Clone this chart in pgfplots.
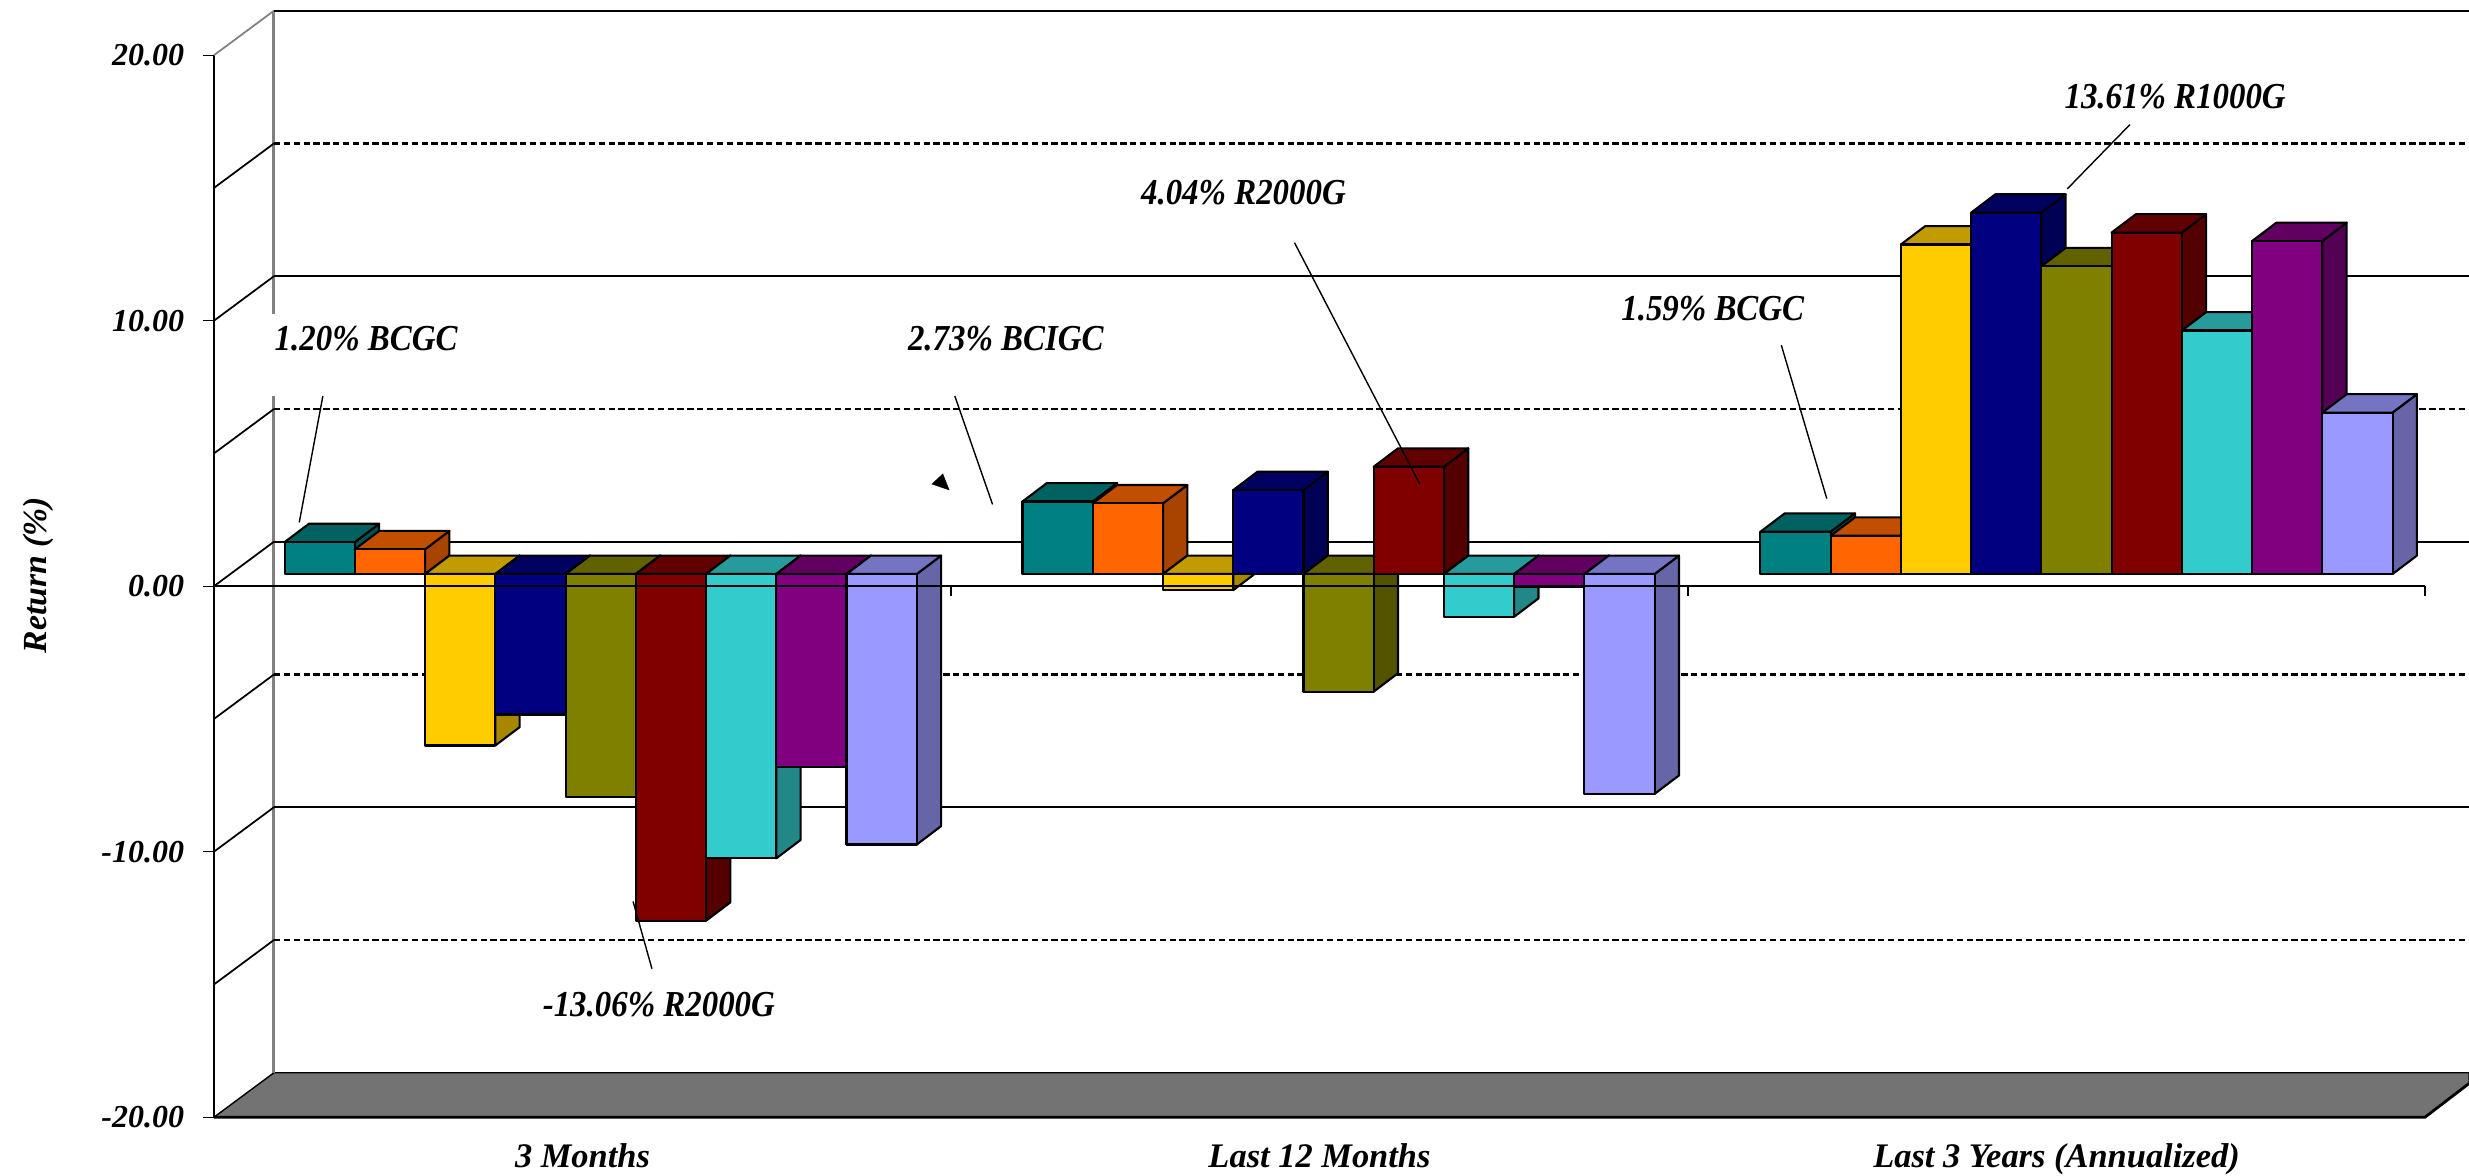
\documentclass[border=0pt]{standalone}
\usepackage{pgfplots}
\pgfplotsset{compat=1.18}
\usepackage{fontspec}
\setmainfont{Liberation Serif}
\newfontfamily\calloutfont[FakeStretch=0.9]{Liberation Serif}

\definecolor{sBCGC}{HTML}{008080}
\definecolor{sBCIGC}{HTML}{FF6600}
\definecolor{sC}{HTML}{FFCC00}
\definecolor{sR1000G}{HTML}{000080}
\definecolor{sE}{HTML}{808000}
\definecolor{sR2000G}{HTML}{800000}
\definecolor{sG}{HTML}{33CCCC}
\definecolor{sH}{HTML}{800080}
\definecolor{sI}{HTML}{9999FF}
\definecolor{floorgrey}{HTML}{737373}
\definecolor{wallgrey}{HTML}{808080}

% depth of the chart box and geometry of the bars, in axis units
\def\wallx{0.0814}
\def\wally{1.675}
\def\rightedge{3.0597}
\def\barw{0.0953}
\def\barstart{0.0958}
\def\groupstep{1.0012}
\def\barbase{0.459}
\def\bardx{0.033}
\def\bardy{0.6925}

\tikzset{barface/.style={draw=black,line width=0.6pt,line join=round}}

% one pseudo-3D bar: group, position in group, return, colour
\newcommand{\threedbar}[4]{%
  \pgfmathsetmacro\xa{\barstart+#1*\groupstep+#2*\barw}%
  \pgfmathsetmacro\xb{\xa+\barw}%
  \pgfmathsetmacro\xc{\xa+\bardx}%
  \pgfmathsetmacro\xd{\xb+\bardx}%
  \pgfmathsetmacro\ya{\barbase}%
  \pgfmathsetmacro\yv{\barbase+#3}%
  \pgfmathsetmacro\yt{max(\ya,\yv)}%
  \pgfmathsetmacro\yu{\yt+\bardy}%
  \pgfmathsetmacro\yc{\ya+\bardy}%
  \pgfmathsetmacro\ye{\yv+\bardy}%
  \edef\temp{%
    \noexpand\addplot[barface,fill=#4!66!black] coordinates {(\xb,\ya)(\xd,\yc)(\xd,\ye)(\xb,\yv)} --cycle;
    \noexpand\addplot[barface,fill=#4!76!black] coordinates {(\xa,\yt)(\xc,\yu)(\xd,\yu)(\xb,\yt)} --cycle;
    \noexpand\addplot[barface,fill=#4] coordinates {(\xa,\ya)(\xb,\ya)(\xb,\yv)(\xa,\yv)} --cycle;
  }%
  \temp
}

% one line of the box: diagonal on the side wall, then along the back wall
\newcommand{\wallline}[2]{%
  \pgfmathsetmacro\yw{#1+\wally}%
  \edef\temp{%
    \noexpand\addplot[black,line width=0.5pt] coordinates {(0,#1)(\wallx,\yw)};
    \noexpand\addplot[black,#2] coordinates {(\wallx,\yw)(\rightedge,\yw)};
  }%
  \temp
}

\begin{document}
\begin{tikzpicture}
\useasboundingbox (0,0) rectangle (24.69,11.76);
\begin{axis}[
  at={(2.14cm,0.588cm)},anchor=south west,
  scale only axis,width=22.11cm,height=10.62cm,
  xmin=0,xmax=3,ymin=-20,ymax=20,
  clip=false,
  axis x line=bottom,axis y line=left,
  axis line style={-,black,line width=0.7pt},
  tick align=outside,
  xtick={0.5,1.5,2.5},
  xticklabels={3 Months,Last 12 Months,Last 3 Years (Annualized)},
  major x tick style={draw=none},
  major tick length=0.105cm,
  ytick={-20,-10,0,10,20},
  ytick style={black,line width=0.3pt},
  /pgf/number format/assume math mode=true,
  /pgf/number format/fixed,
  /pgf/number format/fixed zerofill,
  /pgf/number format/precision=2,
  yticklabel style={font=\fontsize{9.1}{11}\selectfont\bfseries\itshape,xshift=-0.07cm},
  xticklabel style={font=\fontsize{9.8}{11}\selectfont\bfseries\itshape,anchor=base,yshift=-0.40cm},
  ylabel={Return (\%)},
  every axis y label/.style={at={(rel axis cs:-0.0796,0.5104)},rotate=90,anchor=center,
    font=\fontsize{9.6}{11}\selectfont\bfseries\itshape},
]
% floor of the box
\addplot[draw=black,line width=0.4pt,fill=floorgrey] coordinates {(0,-20)(3,-20)(\rightedge,-18.73)(\rightedge,-18.325)(\wallx,-18.325)} --cycle;
\addplot[black,line width=0.8pt] coordinates {(0,-20)(3,-20)(\rightedge,-18.73)};

% back-wall edge, broken where the first callout sits
\addplot[wallgrey,line width=0.85pt] coordinates {(\wallx,21.675)(\wallx,10.24)};
\addplot[wallgrey,line width=0.85pt] coordinates {(\wallx,7.16)(\wallx,-18.325)};
\addplot[wallgrey,line width=0.5pt] coordinates {(0,20)(\wallx,21.675)};
\addplot[black,line width=0.65pt] coordinates {(\wallx,21.675)(\rightedge,21.675)};

\wallline{15}{line width=0.6pt,dash pattern=on 1.8pt off 1pt}
\wallline{10}{line width=0.65pt}
\wallline{5}{line width=0.6pt,dash pattern=on 1.8pt off 1pt}
\wallline{0}{line width=0.65pt}
\wallline{-5}{line width=0.6pt,dash pattern=on 1.8pt off 1pt}
\wallline{-10}{line width=0.65pt}
\wallline{-15}{line width=0.6pt,dash pattern=on 1.8pt off 1pt}

% 3 Months
\threedbar{0}{0}{1.20}{sBCGC}
\threedbar{0}{1}{0.93}{sBCIGC}
\threedbar{0}{2}{-6.46}{sC}
\threedbar{0}{3}{-5.29}{sR1000G}
\threedbar{0}{4}{-8.40}{sE}
\threedbar{0}{5}{-13.06}{sR2000G}
\threedbar{0}{6}{-10.71}{sG}
\threedbar{0}{7}{-7.27}{sH}
\threedbar{0}{8}{-10.19}{sI}
% Last 12 Months
\threedbar{1}{0}{2.73}{sBCGC}
\threedbar{1}{1}{2.66}{sBCIGC}
\threedbar{1}{2}{-0.61}{sC}
\threedbar{1}{3}{3.16}{sR1000G}
\threedbar{1}{4}{-4.43}{sE}
\threedbar{1}{5}{4.04}{sR2000G}
\threedbar{1}{6}{-1.61}{sG}
\threedbar{1}{7}{-0.48}{sH}
\threedbar{1}{8}{-8.28}{sI}
% Last 3 Years (Annualized)
\threedbar{2}{0}{1.59}{sBCGC}
\threedbar{2}{1}{1.44}{sBCIGC}
\threedbar{2}{2}{12.41}{sC}
\threedbar{2}{3}{13.61}{sR1000G}
\threedbar{2}{4}{11.59}{sE}
\threedbar{2}{5}{12.86}{sR2000G}
\threedbar{2}{6}{9.17}{sG}
\threedbar{2}{7}{12.54}{sH}
\threedbar{2}{8}{6.08}{sI}

% zero line in front of the bars, with its category ticks
\addplot[black,line width=0.6pt] coordinates {(0,0)(3,0)};
\addplot[black,line width=0.3pt] coordinates {(1,0)(1,-0.36)};
\addplot[black,line width=0.3pt] coordinates {(2,0)(2,-0.36)};
\addplot[black,line width=0.3pt] coordinates {(3,0)(3,-0.36)};

% callout leaders
\addplot[black,line width=0.4pt] coordinates {(0.1477,7.159)(0.1157,2.401)};
\addplot[black,line width=0.4pt] coordinates {(1.0052,7.159)(1.0564,3.079)};
\addplot[black,line width=0.4pt] coordinates {(1.4661,12.936)(1.6363,3.835)};
\addplot[black,line width=0.4pt] coordinates {(0.5942,-14.407)(0.5686,-11.874)};
\addplot[black,line width=0.4pt] coordinates {(2.1266,9.078)(2.1883,3.297)};
\addplot[black,line width=0.4pt] coordinates {(2.5996,17.385)(2.5146,14.964)};
\addplot[fill=black,draw=black,line width=0.1pt] coordinates {(0.9889,4.230)(0.9741,3.846)(0.9975,3.624)} --cycle;

% callout texts
\tikzset{callout/.style={anchor=west,inner sep=0pt,font=\fontsize{10.4}{12}\calloutfont\bfseries\itshape}}
\node[callout] at (axis cs:0.0814,9.34) {1.20\% BCGC};
\node[callout] at (axis cs:0.9407,9.34) {2.73\% BCIGC};
\node[callout] at (axis cs:1.2570,14.836) {4.04\% R2000G};
\node[callout] at (axis cs:0.4452,-15.762) {-13.06\% R2000G};
\node[callout] at (axis cs:1.9086,10.47) {1.59\% BCGC};
\node[callout] at (axis cs:2.5100,18.449) {13.61\% R1000G};
\end{axis}
\end{tikzpicture}
\end{document}
